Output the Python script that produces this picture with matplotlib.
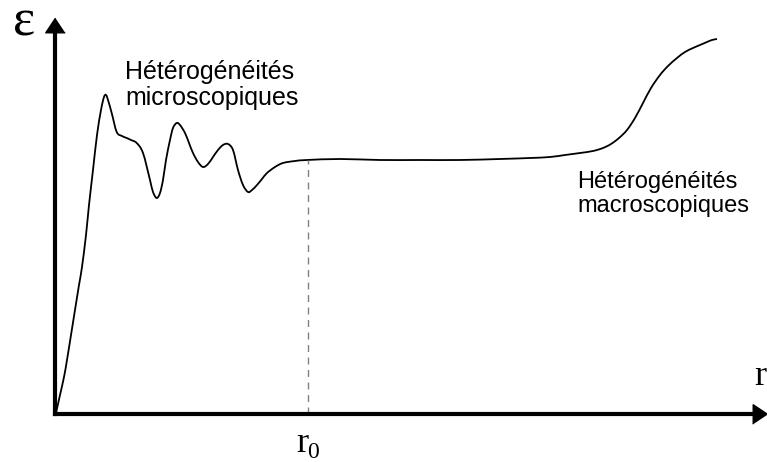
import matplotlib.pyplot as plt
from matplotlib.path import Path
from matplotlib.patches import PathPatch

# curve (pixel positions of the original, origin at axis corner)
px = [56, 60, 64, 67, 71, 75, 79, 82, 86, 89, 93, 97, 101, 104, 106, 108, 111.7, 116.7,
      122, 126.7, 131, 136.7, 143, 150, 153, 156.7, 160, 163, 166, 170, 173, 176.7, 180,
      185, 189, 193, 198, 203, 208, 213, 218, 223, 228, 233, 238, 243, 248, 252, 257,
      262, 267, 275, 283, 295, 307, 340, 380, 420, 460, 500, 530, 550, 565, 580, 593,
      603, 611, 619, 627, 635, 643, 651, 660, 668, 677, 685, 693, 700, 707, 712, 717]
py = [413, 395, 377, 360, 335, 310, 285, 267, 235, 205, 170, 135, 110, 97, 95, 100, 113, 132,
      136, 138, 140, 143, 153, 180, 192, 198, 193, 180, 160, 140, 128, 123, 125,
      133, 143, 153, 162, 167, 164, 157, 150, 145, 144, 150, 170, 185, 192, 190, 185,
      179, 173, 167, 163, 161, 160, 159, 160, 160, 160, 159, 158, 157, 155, 153, 151,
      148, 144, 138, 130, 118, 103, 88, 75, 66, 58, 52, 48, 45, 42, 40, 39]

r = [x - 55 for x in px]
eps = [414 - y for y in py]
r0 = 253
eps_r0 = 254

W, H = 767, 462
fig = plt.figure(figsize=(W / 100, H / 100), dpi=100)
ax = fig.add_axes([55 / W, 48 / H, (760.5 - 55) / W, (414 - 25.5) / H])
ax.set_xlim(0, 705.5)
ax.set_ylim(0, 388.5)

for s in ["top", "right"]:
    ax.spines[s].set_visible(False)
for s in ["left", "bottom"]:
    ax.spines[s].set_linewidth(3)
ax.set_xticks([])
ax.set_yticks([])

# arrow heads
ax.plot(1, 0, marker=[(0.75, 0), (-0.75, 1), (-0.75, -1)], ms=14, color="k",
        transform=ax.transAxes, clip_on=False)
ax.plot(0, 1, marker=[(0, 0.75), (-1, -0.75), (1, -0.75)], ms=14, color="k",
        transform=ax.transAxes, clip_on=False)

# smooth curve through the points (Catmull-Rom drawn as cubic bezier segments)
pts = list(zip(r, eps))
verts = [pts[0]]
codes = [Path.MOVETO]
n = len(pts)
for i in range(n - 1):
    p0 = pts[max(i - 1, 0)]
    p1 = pts[i]
    p2 = pts[i + 1]
    p3 = pts[min(i + 2, n - 1)]
    c1 = (p1[0] + (p2[0] - p0[0]) / 6, p1[1] + (p2[1] - p0[1]) / 6)
    c2 = (p2[0] - (p3[0] - p1[0]) / 6, p2[1] - (p3[1] - p1[1]) / 6)
    verts += [c1, c2, p2]
    codes += [Path.CURVE4] * 3
ax.add_patch(PathPatch(Path(verts, codes), facecolor="none", edgecolor="k", lw=1.3))

ax.plot([r0, r0], [0, eps_r0], color="#808080", lw=1, ls=(0, (5, 4)))

sans = "Liberation Sans"
serif = "Liberation Serif"
fig.text(125 / W, 1 - 105 / H, "Hétérogénéités\nmicroscopiques", family=sans,
         fontsize=18, ha="left", va="baseline", linespacing=1.12)
fig.text(577 / W, 1 - 212 / H, "Hétérogénéités\nmacroscopiques", family=sans,
         fontsize=17, ha="left", va="baseline", linespacing=1.1)
fig.text(24 / W, 1 - 36 / H, "ε", family=serif, fontsize=38, ha="center", va="baseline")
fig.text(760 / W, 1 - 385 / H, "r", family=serif, fontsize=26, ha="center", va="baseline")
fig.text(308 / W, 1 - 452 / H, "r", family=serif, fontsize=26, ha="right", va="baseline")
fig.text(307 / W, 1 - 458 / H, "0", family=serif, fontsize=17, ha="left", va="baseline")

fig.savefig("out.png", dpi=100)
